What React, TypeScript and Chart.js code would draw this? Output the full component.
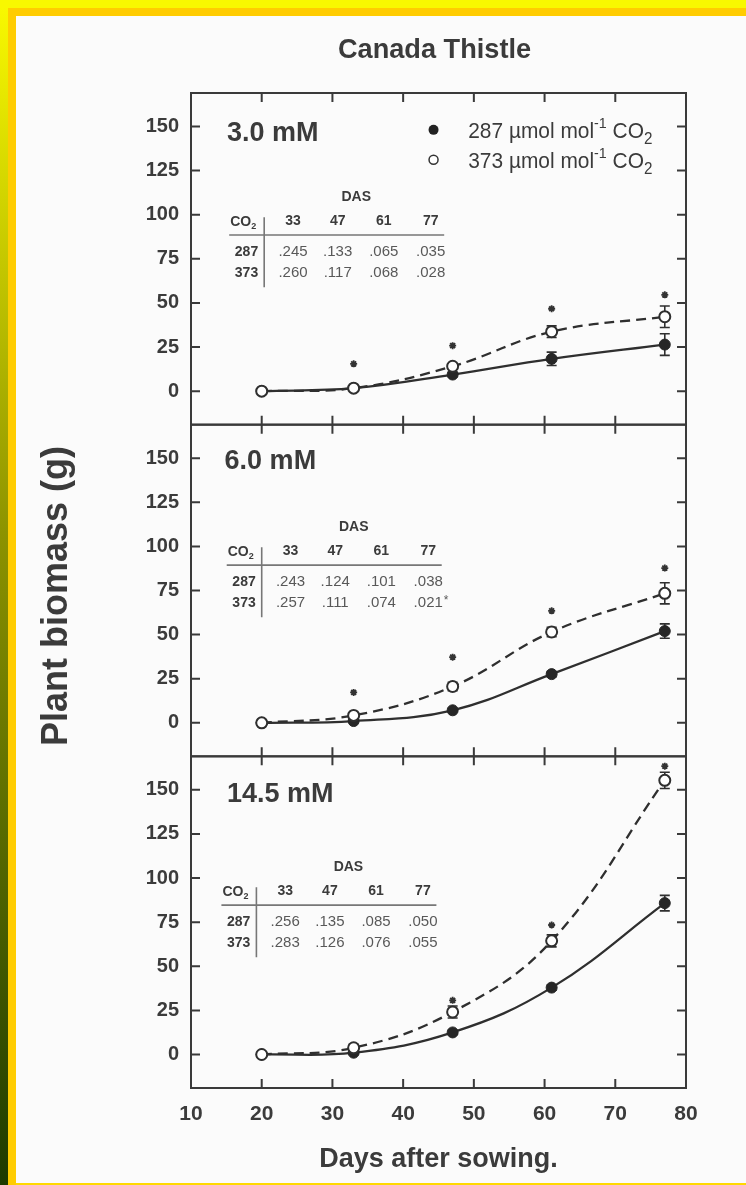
import React, { useEffect, useRef } from "react";
import { Chart, registerables } from "chart.js";

Chart.register(...registerables);

// ---- data ----
const DAYS = [20, 33, 47, 61, 77];
const X_TICK_DAYS = [20, 30, 40, 50, 60, 70];
const Y_TICKS = [0, 25, 50, 75, 100, 125, 150];
const PANEL_LABELS = ["3.0 mM", "6.0 mM", "14.5 mM"];
const SERIES_LABELS = ["287", "373"];
const TABLE_DAS = ["33", "47", "61", "77"];

// 3.0 mM
const LOW_3_0 = [0, 1.7, 9.4, 18.3, 26.4];
const HIGH_3_0 = [0, 1.7, 14.1, 33.7, 42.2];
const LOW_ERR_3_0 = [0, 0.8, 1.2, 3.8, 6.1];
const HIGH_ERR_3_0 = [0, 0.8, 1.3, 3.3, 6.1];
const STAR_DAYS_3_0 = [33, 47, 61, 77];
const STAR_Y_3_0 = [15.5, 25.8, 46.7, 54.6];
const R287_3_0 = [".245", ".133", ".065", ".035"];
const R373_3_0 = [".260", ".117", ".068", ".028"];

// 6.0 mM
const LOW_6_0 = [0, 1.0, 7.1, 27.6, 52.0];
const HIGH_6_0 = [0, 4.2, 20.6, 51.5, 73.4];
const LOW_ERR_6_0 = [0, 0.8, 1.0, 1.5, 4.1];
const HIGH_ERR_6_0 = [0, 1.0, 2.4, 2.7, 6.0];
const STAR_DAYS_6_0 = [33, 47, 61, 77];
const STAR_Y_6_0 = [17.2, 37.2, 63.5, 87.7];
const R287_6_0 = [".243", ".124", ".101", ".038"];
const R373_6_0 = [".257", ".111", ".074", ".021*"];

// 14.5 mM
const LOW_14_5 = [0, 1.0, 12.5, 37.9, 85.8];
const HIGH_14_5 = [0, 3.8, 24.1, 64.4, 155.4];
const LOW_ERR_14_5 = [0, 0.8, 1.0, 1.5, 4.4];
const HIGH_ERR_14_5 = [0, 2.0, 3.4, 3.4, 4.6];
const STAR_DAYS_14_5 = [47, 61, 77];
const STAR_Y_14_5 = [30.7, 73.4, 163.4];
const R287_14_5 = [".256", ".135", ".085", ".050"];
const R373_14_5 = [".283", ".126", ".076", ".055"];

// ---- layout ----
const W = 746;
const H = 1185;
const FONT = '"Liberation Sans", Arial, Helvetica, sans-serif';
const INK = "#3b3b3b";
const LINE = "#2f2f2f";
const Y_MIN = -19;
const Y_MAX = 169;

// anchor of each inset table: [day of divider line, value of header row]
const TABLE_ANCHORS = [
  [20.35, 96.3],
  [20.0, 97.2],
  [19.25, 92.5],
];
// panel label position: [day of left edge, value of middle]
const LABEL_POS = [
  [15.1, 146],
  [14.75, 148],
  [15.1, 147.5],
];
const LEGEND_MARK_DAY = 44.3;
const LEGEND_TEXT_DAY = 49.2;
const LEGEND_ROWS = [148.1, 131.2];

const PANELS = [
  { id: "p1", label: PANEL_LABELS[0], low: LOW_3_0, high: HIGH_3_0, lowErr: LOW_ERR_3_0, highErr: HIGH_ERR_3_0, starDays: STAR_DAYS_3_0, starY: STAR_Y_3_0, r287: R287_3_0, r373: R373_3_0 },
  { id: "p2", label: PANEL_LABELS[1], low: LOW_6_0, high: HIGH_6_0, lowErr: LOW_ERR_6_0, highErr: HIGH_ERR_6_0, starDays: STAR_DAYS_6_0, starY: STAR_Y_6_0, r287: R287_6_0, r373: R373_6_0 },
  { id: "p3", label: PANEL_LABELS[2], low: LOW_14_5, high: HIGH_14_5, lowErr: LOW_ERR_14_5, highErr: HIGH_ERR_14_5, starDays: STAR_DAYS_14_5, starY: STAR_Y_14_5, r287: R287_14_5, r373: R373_14_5 },
];

type Seg = { t: string; size: number; weight?: string; dy?: number };

function drawText(ctx: CanvasRenderingContext2D, s: string, x: number, y: number, font: string, align: CanvasTextAlign = "left", sx = 1) {
  ctx.save();
  ctx.font = font;
  ctx.textAlign = align;
  ctx.textBaseline = "middle";
  ctx.fillStyle = INK;
  ctx.translate(x, y);
  ctx.scale(sx, 1);
  ctx.fillText(s, 0, 0);
  ctx.restore();
}

// draws a run of segments (for super/subscripts), left aligned at x, baseline y
function drawRich(ctx: CanvasRenderingContext2D, segs: Seg[], x: number, y: number, sx = 1) {
  ctx.save();
  ctx.fillStyle = INK;
  ctx.textBaseline = "alphabetic";
  ctx.textAlign = "left";
  ctx.translate(x, y);
  ctx.scale(sx, 1);
  let cx = 0;
  for (const s of segs) {
    ctx.font = `${s.weight || "normal"} ${s.size}px ${FONT}`;
    ctx.fillText(s.t, cx, s.dy || 0);
    cx += ctx.measureText(s.t).width;
  }
  ctx.restore();
}

function drawTable(ctx: CanvasRenderingContext2D, ax: number, ay: number, r287: string[], r373: string[]) {
  const cols = [28.8, 73.5, 119.6, 166.5];
  const hb = `bold 14px ${FONT}`;
  const vf = `15px ${FONT}`;
  drawText(ctx, "DAS", ax + 92, ay - 24, hb, "center");
  drawRich(ctx, [
    { t: "CO", size: 14, weight: "bold" },
    { t: "2", size: 9, weight: "bold", dy: 3 },
  ], ax - 34, ay + 5);
  TABLE_DAS.forEach((d, i) => drawText(ctx, d, ax + cols[i], ay, hb, "center"));
  ctx.save();
  ctx.strokeStyle = "#777";
  ctx.lineWidth = 1.6;
  ctx.beginPath();
  ctx.moveTo(ax - 35, ay + 13.8);
  ctx.lineTo(ax + 180, ay + 13.8);
  ctx.moveTo(ax, ay - 4);
  ctx.lineTo(ax, ay + 66);
  ctx.stroke();
  ctx.restore();
  const rows = [
    [SERIES_LABELS[0], r287, 30.8],
    [SERIES_LABELS[1], r373, 51.8],
  ] as [string, string[], number][];
  for (const [lab, vals, dy] of rows) {
    drawText(ctx, lab, ax - 6, ay + dy, hb, "right");
    vals.forEach((v, i) => {
      const star = v.endsWith("*");
      const base = star ? v.slice(0, -1) : v;
      ctx.save();
      ctx.globalAlpha = 0.85;
      drawText(ctx, base, ax + cols[i], ay + dy, vf, "center");
      if (star) {
        ctx.font = vf;
        const w = ctx.measureText(base).width;
        drawText(ctx, "*", ax + cols[i] + w / 2 + 1, ay + dy - 2, `12px ${FONT}`, "left");
      }
      ctx.restore();
    });
  }
}

const decorPlugin = {
  id: "panelDecor",
  beforeDatasetsDraw(chart: any) {
    const ctx: CanvasRenderingContext2D = chart.ctx;
    const { left, right } = chart.chartArea;
    const xs = chart.scales.x;
    ctx.save();
    ctx.strokeStyle = "#3a3a3a";
    ctx.lineWidth = 2;
    ctx.lineCap = "butt";
    for (const p of PANELS) {
      const s = chart.scales[p.id];
      ctx.strokeRect(left, s.top, right - left, s.bottom - s.top);
      ctx.beginPath();
      for (const v of Y_TICKS) {
        const y = s.getPixelForValue(v);
        ctx.moveTo(left, y);
        ctx.lineTo(left + 9, y);
        ctx.moveTo(right, y);
        ctx.lineTo(right - 9, y);
      }
      for (const d of X_TICK_DAYS) {
        const x = xs.getPixelForValue(d);
        ctx.moveTo(x, s.top);
        ctx.lineTo(x, s.top + 9);
        ctx.moveTo(x, s.bottom);
        ctx.lineTo(x, s.bottom - 9);
      }
      ctx.stroke();
    }
    ctx.restore();

    // error bars
    ctx.save();
    ctx.strokeStyle = LINE;
    ctx.lineWidth = 1.6;
    chart.data.datasets.forEach((ds: any, i: number) => {
      if (!ds.errors) return;
      const meta = chart.getDatasetMeta(i);
      const ys = chart.scales[ds.yAxisID];
      meta.data.forEach((pt: any, j: number) => {
        const e = ds.errors[j];
        if (!e) return;
        const v = ds.data[j].y;
        const y1 = ys.getPixelForValue(v + e);
        const y2 = ys.getPixelForValue(v - e);
        ctx.beginPath();
        ctx.moveTo(pt.x, y1);
        ctx.lineTo(pt.x, y2);
        ctx.moveTo(pt.x - 5, y1);
        ctx.lineTo(pt.x + 5, y1);
        ctx.moveTo(pt.x - 5, y2);
        ctx.lineTo(pt.x + 5, y2);
        ctx.stroke();
      });
    });
    ctx.restore();
  },
  afterDraw(chart: any) {
    const ctx: CanvasRenderingContext2D = chart.ctx;
    const xs = chart.scales.x;
    const area = chart.chartArea;

    PANELS.forEach((p, i) => {
      const s = chart.scales[p.id];
      const [ld, lv] = LABEL_POS[i];
      drawText(ctx, p.label, xs.getPixelForValue(ld), s.getPixelForValue(lv), `bold 27px ${FONT}`, "left");
      const [td, tv] = TABLE_ANCHORS[i];
      drawTable(ctx, xs.getPixelForValue(td), s.getPixelForValue(tv), p.r287, p.r373);
    });

    // legend in the top panel
    const s1 = chart.scales[PANELS[0].id];
    const mx = xs.getPixelForValue(LEGEND_MARK_DAY);
    const tx = xs.getPixelForValue(LEGEND_TEXT_DAY);
    LEGEND_ROWS.forEach((v, i) => {
      const y = s1.getPixelForValue(v);
      ctx.save();
      ctx.beginPath();
      ctx.arc(mx, y, i === 0 ? 5 : 4.5, 0, Math.PI * 2);
      if (i === 0) {
        ctx.fillStyle = "#222";
        ctx.fill();
      } else {
        ctx.fillStyle = "#fff";
        ctx.fill();
        ctx.strokeStyle = "#333";
        ctx.lineWidth = 1.5;
        ctx.stroke();
      }
      ctx.restore();
      drawRich(ctx, [
        { t: `${SERIES_LABELS[i]} µmol mol`, size: 22 },
        { t: "-1", size: 15, dy: -10 },
        { t: " CO", size: 22 },
        { t: "2", size: 16, dy: 6 },
      ], tx, y + 8, 0.95);
    });

    // titles
    const cx = (area.left + area.right) / 2;
    drawText(ctx, "Canada Thistle", cx - 4, 50, `bold 28px ${FONT}`, "center", 0.97);
    drawText(ctx, "Days after sowing.", cx, 1160, `bold 27px ${FONT}`, "center", 1);
    ctx.save();
    ctx.translate(57, 596);
    ctx.rotate(-Math.PI / 2);
    drawText(ctx, "Plant biomass (g)", 0, 0, `bold 36px ${FONT}`, "center");
    ctx.restore();
  },
};

function yScale() {
  return {
    type: "linear" as const,
    position: "left" as const,
    stack: "panels",
    stackWeight: 1,
    min: Y_MIN,
    max: Y_MAX,
    afterBuildTicks: (s: any) => {
      s.ticks = Y_TICKS.map((v) => ({ value: v }));
    },
    afterFit: (s: any) => {
      s.width = 191;
    },
    grid: { display: false, drawTicks: false },
    border: { display: false },
    ticks: { padding: 12, color: INK, font: { family: FONT, size: 20, weight: "bold" as const } },
  };
}

export default function App() {
  const ref = useRef<HTMLCanvasElement | null>(null);

  useEffect(() => {
    if (!ref.current) return;
    const datasets: any[] = [];
    for (const p of PANELS) {
      datasets.push({
        label: `${p.label} ${SERIES_LABELS[1]}`,
        yAxisID: p.id,
        data: DAYS.map((d, i) => ({ x: d, y: p.high[i] })),
        errors: p.highErr,
        borderColor: LINE,
        borderWidth: 2.3,
        borderDash: [10, 6],
        tension: 0.4,
        pointRadius: 5.5,
        pointBackgroundColor: "#ffffff",
        pointBorderColor: LINE,
        pointBorderWidth: 2,
        order: 1,
      });
      datasets.push({
        label: `${p.label} ${SERIES_LABELS[0]}`,
        yAxisID: p.id,
        data: DAYS.map((d, i) => ({ x: d, y: p.low[i] })),
        errors: p.lowErr,
        borderColor: LINE,
        borderWidth: 2.3,
        tension: 0.4,
        pointRadius: 5.5,
        pointBackgroundColor: "#262626",
        pointBorderColor: "#262626",
        pointBorderWidth: 1,
        order: 2,
      });
      datasets.push({
        label: `${p.label} significance`,
        yAxisID: p.id,
        data: p.starDays.map((d, i) => ({ x: d, y: p.starY[i] })),
        showLine: false,
        pointStyle: "star",
        pointRadius: 3.5,
        pointBorderWidth: 1.8,
        pointBorderColor: "#333",
        pointBackgroundColor: "#333",
        order: 0,
      });
    }

    const chart = new Chart(ref.current, {
      type: "line",
      data: { datasets },
      options: {
        responsive: false,
        animation: false,
        devicePixelRatio: 1,
        layout: { padding: { left: 0, right: 60, top: 93, bottom: 0 } },
        plugins: { legend: { display: false }, tooltip: { enabled: false }, title: { display: false } },
        scales: {
          x: {
            type: "linear",
            position: "bottom",
            min: 10,
            max: 80,
            afterFit: (s: any) => {
              s.height = 97;
            },
            grid: { display: false, drawTicks: false },
            border: { display: false },
            ticks: { stepSize: 10, padding: 14, color: INK, maxRotation: 0, autoSkip: false, font: { family: FONT, size: 21, weight: "bold" } },
          },
          // stacked left axes are placed top-down from the last one declared
          p3: yScale(),
          p2: yScale(),
          p1: yScale(),
        } as any,
      },
      plugins: [decorPlugin],
    });
    return () => chart.destroy();
  }, []);

  return (
    <div style={{ position: "fixed", left: 0, top: 0, width: W, height: H, background: "#fbfbfb", overflow: "hidden" }}>
      <div style={{ position: "absolute", left: 0, top: 0, width: W, height: 8, background: "#f8f800" }} />
      <div style={{ position: "absolute", left: 0, top: 8, width: 8, height: H - 8, background: "linear-gradient(to bottom, #f8f800 0%, #8c9200 45%, #1c3a00 100%)" }} />
      <div style={{ position: "absolute", left: 8, top: 8, width: W - 8, height: 8, background: "#ffcc00" }} />
      <div style={{ position: "absolute", left: 8, top: 8, width: 8, height: H - 8, background: "#ffcc00" }} />
      <div style={{ position: "absolute", left: 16, top: H - 2, width: W - 16, height: 2, background: "#ffd800" }} />
      <canvas ref={ref} width={W} height={H} style={{ position: "absolute", left: 0, top: 0, width: W, height: H }} />
    </div>
  );
}
